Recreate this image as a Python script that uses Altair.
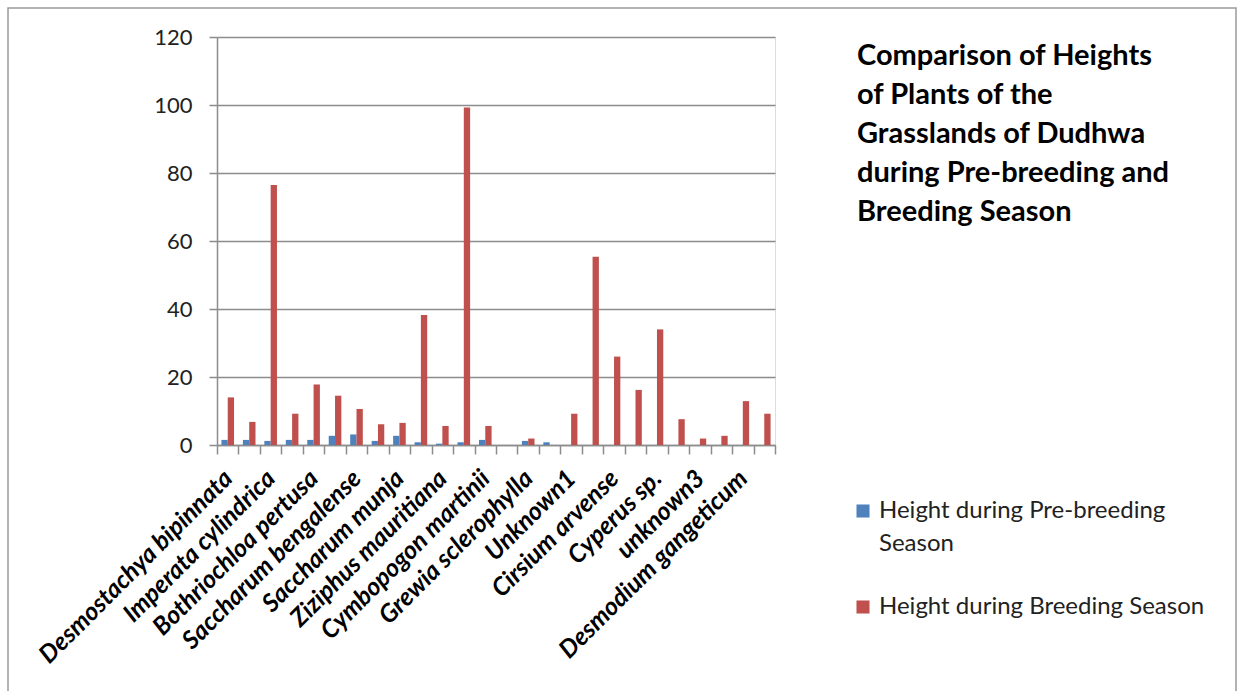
import json
import altair as alt
import pandas as pd

# Species names printed under every other pair of bars
species_labels = [
    "Desmostachya bipinnata", "Imperata cylindrica", "Bothriochloa pertusa",
    "Saccharum bengalense", "Saccharum munja", "Ziziphus mauritiana",
    "Cymbopogon martinii", "Grewia sclerophylla", "Unknown1",
    "Cirsium arvense", "Cyperus sp.", "unknown3", "Desmodium gangeticum",
]

# Mean heights for the 26 plants, in plotting order
pre_breeding = [1.5, 1.5, 1.2, 1.5, 1.5, 2.7, 3.1, 1.2, 2.7, 0.8, 0.4, 0.8, 1.5,
                0.0, 1.2, 0.8, 0.0, 0.0, 0.0, 0.0, 0.0, 0.0, 0.0, 0.0, 0.0, 0.0]
breeding = [14.0, 6.8, 76.5, 9.2, 17.8, 14.5, 10.6, 6.1, 6.5, 38.2, 5.6, 99.3, 5.6,
            0.0, 1.9, 0.0, 9.2, 55.4, 26.0, 16.2, 34.0, 7.6, 1.9, 2.7, 12.9, 9.2]

series_names = ["Height during Pre-breeding Season", "Height during Breeding Season"]
series_colors = ["#4F81BD", "#C0504D"]

title_lines = [
    "Comparison of Heights",
    "of Plants of the",
    "Grasslands of Dudhwa",
    "during Pre-breeding and",
    "Breeding Season",
]

rows = []
for i, (a, b) in enumerate(zip(pre_breeding, breeding)):
    rows.append({"pos": i, "series": series_names[0], "height": a})
    rows.append({"pos": i, "series": series_names[1], "height": b})
df = pd.DataFrame(rows)

W, H = 558, 408
PAD_L, PAD_T = 217, 37

label_expr = (
    "datum.value % 2 == 0 ? " + json.dumps(species_labels) + "[datum.value / 2] : ''"
)
legend_expr = (
    "datum.label == '" + series_names[0] + "' ? ['Height during Pre-breeding', 'Season'] : datum.label"
)

bars = alt.Chart(df).mark_bar().encode(
    x=alt.X(
        "pos:O",
        scale=alt.Scale(paddingInner=0, paddingOuter=0),
        axis=alt.Axis(
            title=None,
            labelExpr=label_expr,
            labelAngle=-45,
            labelAlign="right",
            labelBaseline="middle",
            labelFont="Lato",
            labelFontWeight="bold",
            labelFontStyle="italic",
            labelFontSize=25,
            labelColor="#000000",
            labelPadding=20,
            labelOverlap=False,
            labelLimit=500,
            tickBand="extent",
            tickSize=9,
            tickColor="#8c8c8c",
            tickWidth=1.5,
            domainColor="#8c8c8c",
            domainWidth=1.5,
            grid=False,
        ),
    ),
    xOffset=alt.XOffset(
        "series:N",
        sort=series_names,
        scale=alt.Scale(paddingOuter=0.7, paddingInner=0),
    ),
    y=alt.Y(
        "height:Q",
        scale=alt.Scale(domain=[0, 120], nice=False),
        axis=alt.Axis(
            title=None,
            values=[0, 20, 40, 60, 80, 100, 120],
            labelFont="Lato",
            labelFontSize=22,
            labelColor="#222222",
            labelPadding=17,
            tickSize=8,
            tickColor="#8c8c8c",
            tickWidth=1.5,
            domainColor="#8c8c8c",
            domainWidth=1.5,
            gridColor="#8c8c8c",
            gridWidth=1.5,
        ),
    ),
    color=alt.Color(
        "series:N",
        sort=series_names,
        scale=alt.Scale(domain=series_names, range=series_colors),
        legend=alt.Legend(
            title=None,
            orient="none",
            legendX=634,
            legendY=462,
            symbolType="square",
            symbolSize=170,
            symbolStrokeWidth=0,
            labelFont="Lato",
            labelFontSize=24,
            labelColor="#222222",
            labelLimit=500,
            labelExpr=legend_expr,
            rowPadding=39,
        ),
    ),
)

title = alt.Chart(alt.InlineData(values=[{}])).mark_text(
    align="left",
    baseline="top",
    font="Lato",
    fontSize=29,
    fontWeight="bold",
    lineHeight=39,
    color="#000000",
).encode(
    x=alt.value(640),
    y=alt.value(5),
    text=alt.value(title_lines),
)

frame = alt.Chart(alt.InlineData(values=[{}])).mark_rect(
    fill="transparent", stroke="#9a9a9a", strokeWidth=1.5
).encode(
    x=alt.value(8 - PAD_L),
    x2=alt.value(1236 - PAD_L),
    y=alt.value(8 - PAD_T),
    y2=alt.value(720 - PAD_T),
)

chart = alt.layer(frame, bars, title).properties(
    width=W,
    height=H,
    autosize=alt.AutoSizeParams(type="none"),
    padding={"left": PAD_L, "top": PAD_T, "right": 1243 - PAD_L - W, "bottom": 691 - PAD_T - H},
    background="white",
).configure_view(stroke=None).configure(
    style={"guide-label": {"lineHeight": 33}}
)

chart.save("out.html", embed_options={"renderer": "svg", "actions": False})
